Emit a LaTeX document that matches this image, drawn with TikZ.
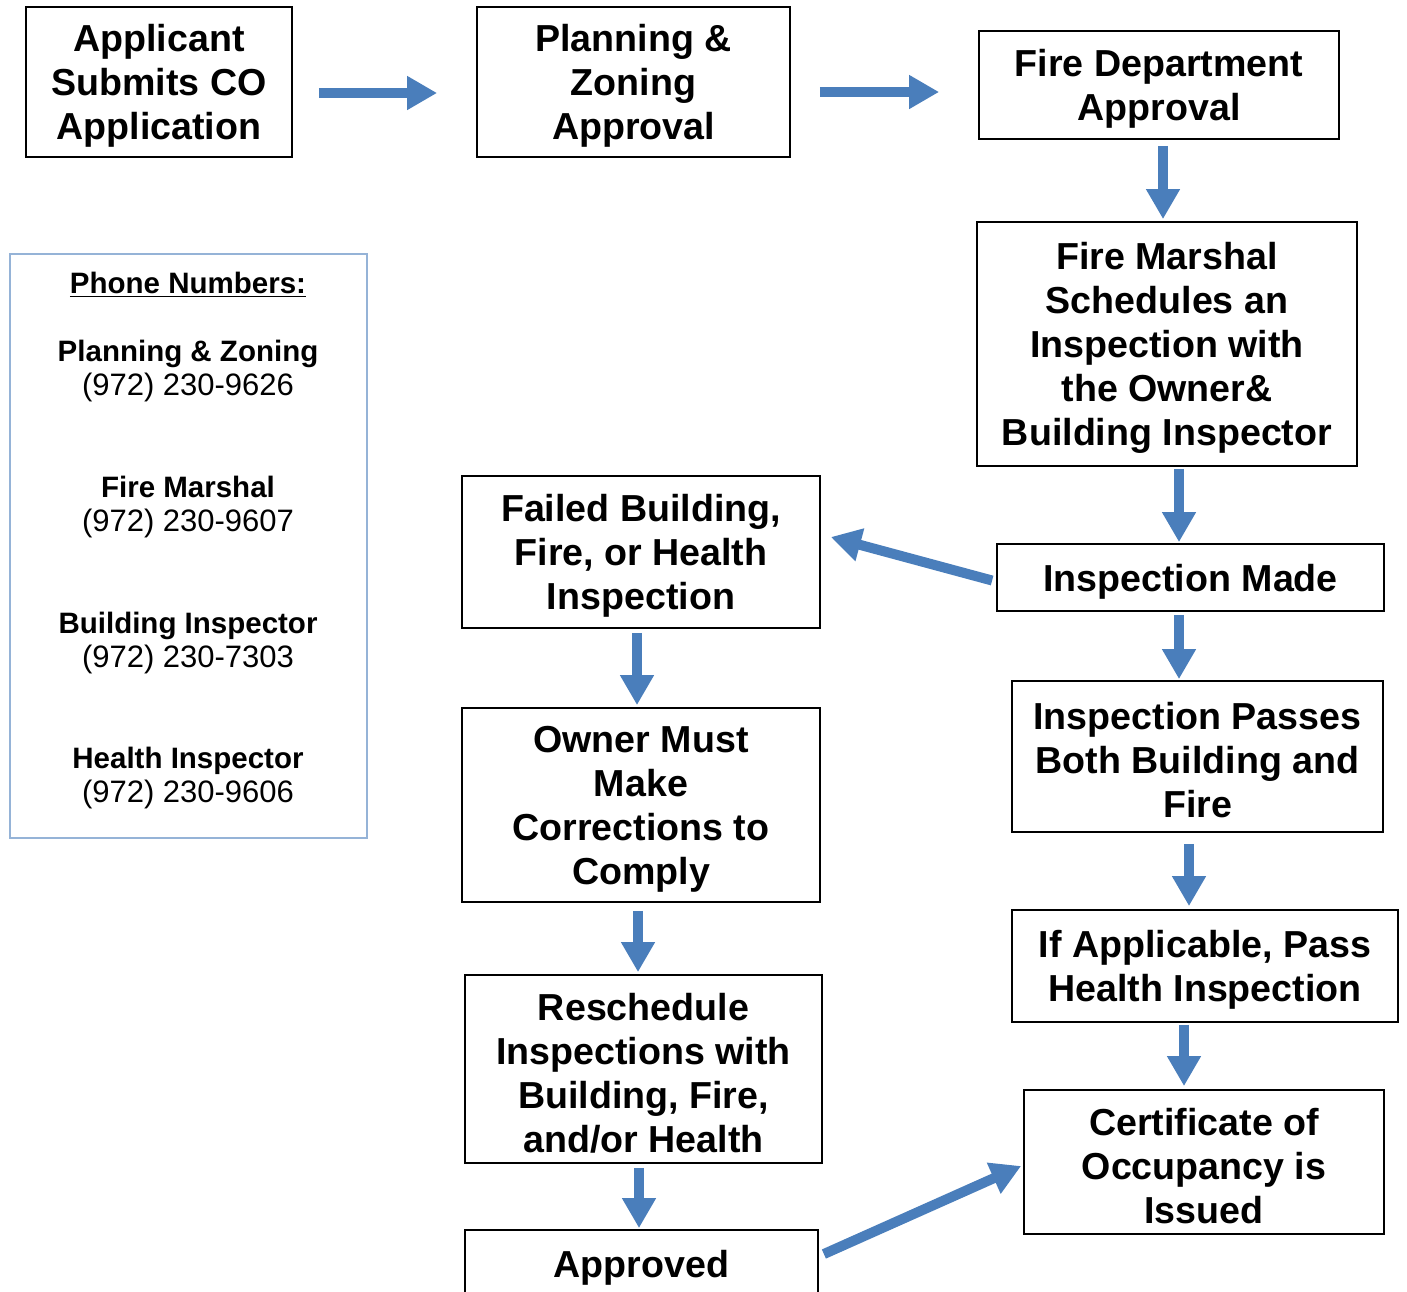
\documentclass[tikz,border=0pt]{standalone}
\usepackage{fontspec}
\setmainfont{Liberation Sans}
\usetikzlibrary{arrows.meta,calc}
\definecolor{arrblue}{HTML}{4A7EBB}
\definecolor{legblue}{HTML}{95B3D7}
\newcommand{\pnum}[1]{{\fontsize{15.5pt}{17pt}\selectfont #1}}
\newcommand{\boxstrut}{\rule{0pt}{17.5pt}}
\begin{document}
\begin{tikzpicture}[x=0.5pt,y=-0.5pt,
  box/.style={draw=black,line width=0.9pt,inner sep=0pt,align=center,
    font=\fontsize{18.8pt}{22pt}\selectfont\bfseries},
  arr/.style={draw=arrblue,line width=5pt,-{Triangle[width=16pt,length=15pt]}},
  phone/.style={align=center,inner sep=0pt,font=\fontsize{14.75pt}{17pt}\selectfont}
]
\useasboundingbox (0,0) rectangle (1407,1291);
% boxes
\node[box,minimum width=133pt,minimum height=75pt] (app) at (159,82) {\boxstrut Applicant\\Submits CO\\Application};
\node[box,minimum width=156.5pt,minimum height=75pt] (pz) at (633.5,82) {\boxstrut Planning \&\\Zoning\\Approval};
\node[box,minimum width=180pt,minimum height=54pt] (fd) at (1159,85) {\boxstrut Fire Department\\Approval};
\node[box,minimum width=190pt,minimum height=122pt] (fm) at (1167,344) {\boxstrut Fire Marshal\\Schedules an\\Inspection with\\the Owner\&\\Building Inspector};
\node[box,minimum width=193.5pt,minimum height=33.5pt] (im) at (1190.5,577.5) {\boxstrut Inspection Made};
\node[box,minimum width=179pt,minimum height=76pt] (fail) at (641,552) {\boxstrut Failed Building,\\Fire, or Health\\Inspection};
\node[box,minimum width=179pt,minimum height=97pt] (own) at (641,805) {\boxstrut Owner Must\\Make\\Corrections to\\Comply};
\node[box,minimum width=185.5pt,minimum height=75.5pt] (pass) at (1197.5,756.5) {\boxstrut Inspection Passes\\Both Building and\\Fire};
\node[box,minimum width=193pt,minimum height=56pt] (ifa) at (1205,966) {\boxstrut If Applicable, Pass\\Health Inspection};
\node[box,minimum width=178.5pt,minimum height=94pt] (resch) at (643.5,1069) {\boxstrut Reschedule\\Inspections with\\Building, Fire,\\and/or Health};
\node[box,minimum width=180pt,minimum height=72pt] (cert) at (1204,1162) {\boxstrut Certificate of\\Occupancy is\\Issued};
\node[box,minimum width=176.5pt,minimum height=34pt] (appr) at (641.5,1264) {\boxstrut Approved};
% phone legend
\node[draw=legblue,line width=0.9pt,minimum width=178.5pt,minimum height=292pt,inner sep=0pt] (leg) at (188.5,546) {};
\node[phone,font=\fontsize{14.75pt}{17pt}\selectfont\bfseries] (lt) at (188,285) {\underline{Phone Numbers:}};
\node[phone] (l1) at (188,371) {\textbf{Planning \& Zoning}\\\pnum{(972) 230-9626}};
\node[phone] (l2) at (188,507) {\textbf{Fire Marshal}\\\pnum{(972) 230-9607}};
\node[phone] (l3) at (188,643) {\textbf{Building Inspector}\\\pnum{(972) 230-7303}};
\node[phone] (l4) at (188,778) {\textbf{Health Inspector}\\\pnum{(972) 230-9606}};
% arrows
\draw[arr] ($(app.east)+(26,11)$) -- ($(pz.west)+(-39,11)$);
\draw[arr] ($(pz.east)+(29,10)$) -- ($(fd.west)+(-39,7)$);
\draw[arr] ($(fd.south)+(4,6)$) -- ($(fm.north)+(-4,-2)$);
\draw[arr] ($(fm.south)+(12,2)$) -- ($(im.north)+(-11.5,-1)$);
\draw[arr] ($(im.west)+(-4,3)$) -- ($(fail.east)+(10,-15)$);
\draw[arr] ($(fail.south)+(-4,4)$) -- ($(own.north)+(-4,-2)$);
\draw[arr] ($(im.south)+(-11.5,3)$) -- ($(pass.north)+(-18.5,-1)$);
\draw[arr] ($(own.south)+(-3,8)$) -- ($(resch.north)+(-5.5,-2)$);
\draw[arr] ($(pass.south)+(-8.5,11)$) -- ($(ifa.north)+(-16,-3)$);
\draw[arr] ($(ifa.south)+(-21,2)$) -- ($(cert.north)+(-20,-3)$);
\draw[arr] ($(resch.south)+(-4.5,4)$) -- ($(appr.north)+(-2.5,-1)$);
\draw[arr] ($(appr.east)+(5,-10)$) -- ($(cert.west)+(-2,4)$);
\end{tikzpicture}
\end{document}
